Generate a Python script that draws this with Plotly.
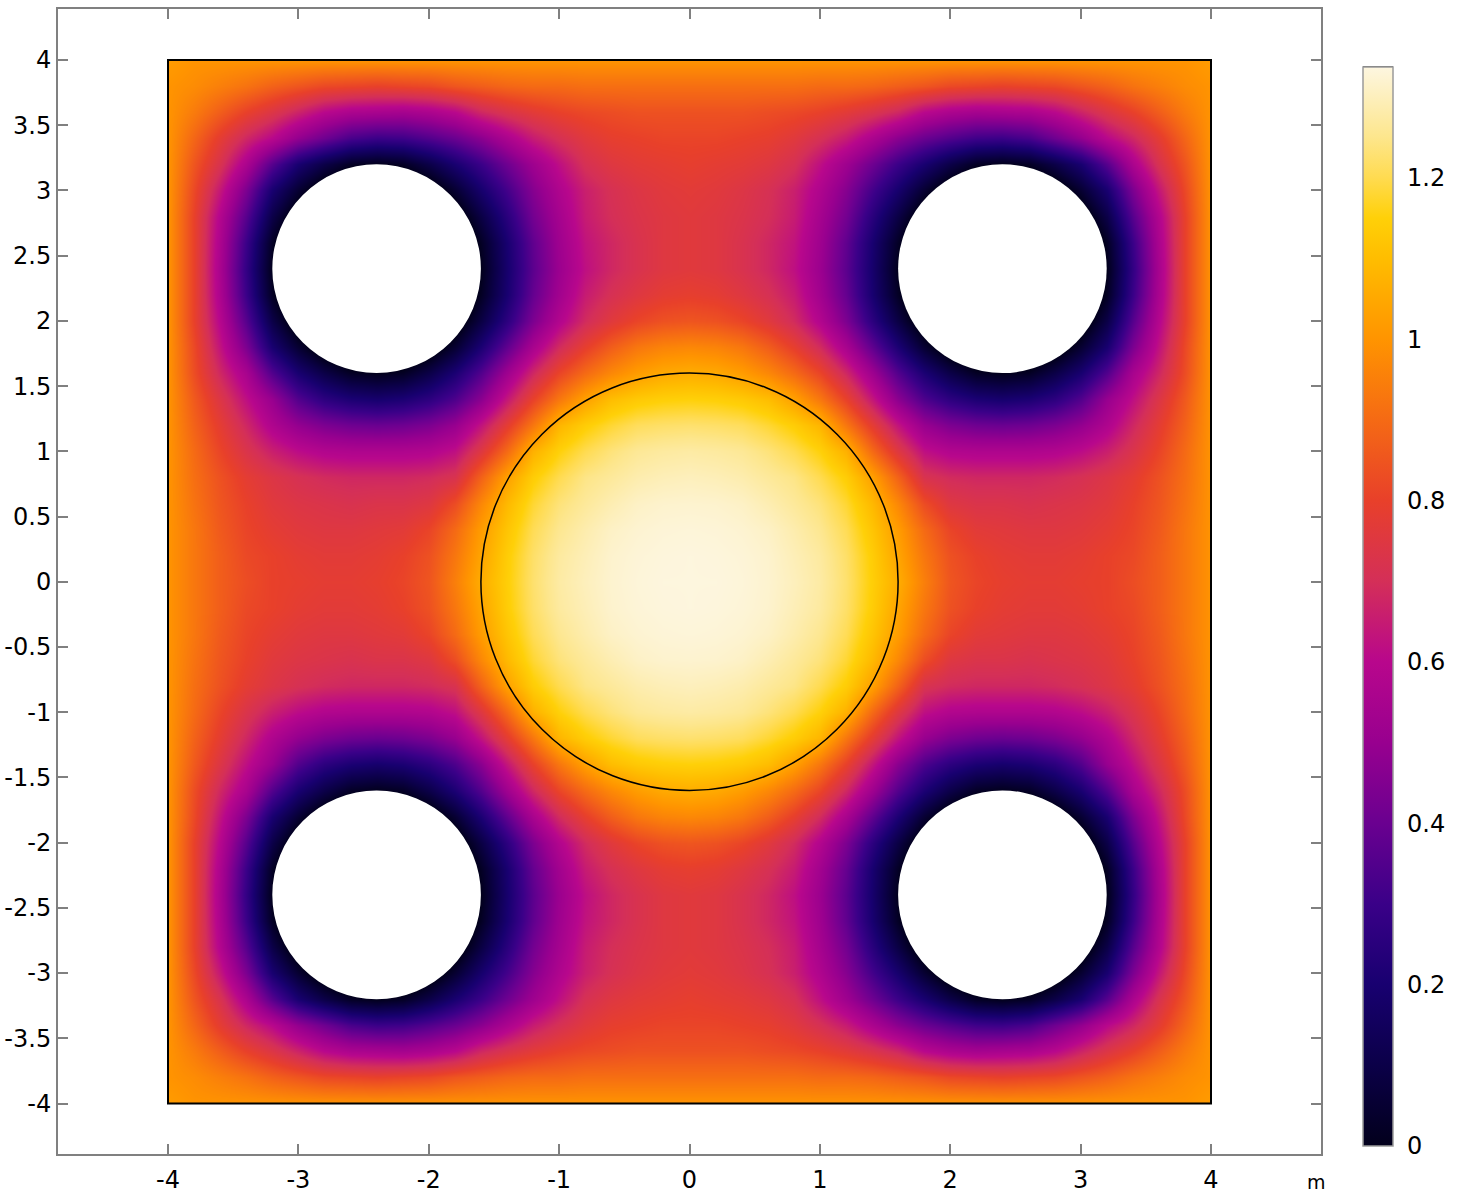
import numpy as np
import plotly.graph_objects as go

# Nodes of the upper-right quadrant (metres); the field is mirrored about both axes.
quad_x = [0.0, 0.2, 0.4, 0.6, 0.8, 1.0, 1.2, 1.4, 1.6, 1.8, 2.0, 2.2, 2.4, 2.6, 2.8, 3.0, 3.2, 3.4, 3.6, 3.8, 4.0]
quad_y = [0.0, 0.2, 0.4, 0.6, 0.8, 1.0, 1.2, 1.4, 1.6, 1.8, 2.0, 2.2, 2.4, 2.6, 2.8, 3.0, 3.2, 3.4, 3.6, 3.8, 4.0]

# Values; rows ascend in y, columns ascend in x.
# Nodes inside the holes sit below zero so that the rim of each hole reads as 0.
field = [
    [1.335, 1.335, 1.33, 1.32, 1.30, 1.275, 1.225, 1.145, 1.06, .95, .85, .81, .79, .78, .78, .79, .80, .83, .87, .93, 1.0],
    [1.335, 1.333, 1.328, 1.318, 1.295, 1.27, 1.22, 1.14, 1.04, .93, .84, .80, .78, .77, .77, .78, .80, .82, .87, .93, 1.0],
    [1.33, 1.328, 1.322, 1.31, 1.285, 1.255, 1.205, 1.12, 1.02, .90, .81, .77, .76, .75, .75, .76, .78, .81, .86, .93, 1.0],
    [1.32, 1.318, 1.31, 1.29, 1.265, 1.235, 1.18, 1.09, .97, .83, .75, .73, .73, .72, .73, .74, .76, .80, .85, .92, 1.0],
    [1.30, 1.295, 1.285, 1.265, 1.245, 1.20, 1.14, 1.03, .88, .72, .69, .68, .68, .68, .69, .71, .74, .78, .84, .91, 1.0],
    [1.275, 1.27, 1.26, 1.235, 1.20, 1.15, 1.07, .90, .75, .62, .58, .57, .57, .57, .58, .61, .66, .73, .81, .90, 1.0],
    [1.225, 1.22, 1.21, 1.18, 1.14, 1.08, .93, .78, .63, .50, .44, .41, .40, .41, .44, .49, .57, .68, .78, .88, 1.0],
    [1.15, 1.145, 1.13, 1.10, 1.03, .93, .80, .64, .47, .34, .26, .21, .19, .21, .26, .35, .50, .62, .74, .86, 1.0],
    [1.06, 1.05, 1.02, .97, .90, .81, .68, .52, .35, .21, .10, .02, 0, .02, .10, .20, .35, .55, .68, .83, 1.0],
    [.97, .96, .93, .87, .79, .69, .55, .38, .21, .05, -.07, -.15, -.18, -.15, -.07, .05, .20, .44, .63, .82, 1.0],
    [.85, .84, .81, .76, .69, .58, .44, .26, .09, -.07, -.21, -.32, -.36, -.32, -.21, -.07, .10, .36, .59, .80, 1.0],
    [.79, .78, .75, .71, .65, .53, .39, .20, .02, -.15, -.32, -.47, -.54, -.47, -.32, -.15, .02, .30, .56, .80, 1.0],
    [.76, .75, .72, .68, .62, .51, .37, .19, 0, -.18, -.36, -.54, -.70, -.54, -.36, -.18, 0, .28, .55, .80, 1.0],
    [.76, .75, .72, .68, .63, .52, .38, .20, .02, -.15, -.32, -.47, -.54, -.47, -.32, -.15, .02, .30, .56, .80, 1.0],
    [.76, .75, .73, .70, .65, .54, .42, .25, .09, -.07, -.21, -.32, -.36, -.32, -.21, -.07, .10, .36, .58, .80, 1.0],
    [.77, .76, .74, .71, .66, .57, .46, .32, .19, .05, -.07, -.15, -.18, -.15, -.07, .05, .20, .44, .64, .82, 1.0],
    [.79, .78, .77, .75, .71, .62, .52, .41, .30, .20, .10, .02, 0, .02, .10, .20, .36, .56, .72, .85, 1.0],
    [.81, .81, .80, .79, .76, .71, .65, .56, .47, .40, .35, .31, .30, .33, .41, .49, .60, .68, .78, .89, 1.0],
    [.84, .84, .84, .83, .82, .80, .77, .73, .68, .60, .56, .54, .55, .56, .60, .67, .74, .80, .87, .94, 1.0],
    [.91, .91, .91, .91, .91, .90, .90, .89, .87, .85, .82, .81, .80, .81, .82, .85, .88, .92, .95, .98, 1.0],
    [1.0, 1.0, 1.0, 1.0, 1.0, 1.0, 1.0, 1.0, 1.0, 1.0, 1.0, 1.0, 1.0, 1.0, 1.0, 1.0, 1.0, 1.0, 1.0, 1.0, 1.02],
]

# Geometry of the model, metres
hole_centres = [2.4, -2.4]
hole_radius = 0.8
core_radius = 1.6
square_half = 4.0

x_ticks = [-4, -3, -2, -1, 0, 1, 2, 3, 4]
x_labels = ["-4", "-3", "-2", "-1", "0", "1", "2", "3", "4"]
y_ticks = [-4, -3.5, -3, -2.5, -2, -1.5, -1, -0.5, 0, 0.5, 1, 1.5, 2, 2.5, 3, 3.5, 4]
y_labels = ["-4", "-3.5", "-3", "-2.5", "-2", "-1.5", "-1", "-0.5", "0", "0.5", "1", "1.5", "2", "2.5", "3", "3.5", "4"]
bar_ticks = [0, 0.2, 0.4, 0.6, 0.8, 1, 1.2]
bar_labels = ["0", "0.2", "0.4", "0.6", "0.8", "1", "1.2"]
z_max = 1.3375

colour_stops = [
    (0.0, "#02001c"), (0.1, "#0b0048"), (0.2, "#180070"), (0.3, "#3a0088"),
    (0.4, "#6a0090"), (0.5, "#98008f"), (0.6, "#b8078c"), (0.7, "#d42f58"),
    (0.8, "#e8402a"), (0.9, "#f56a14"), (1.0, "#ff9400"), (1.1, "#ffbd00"),
    (1.15, "#ffd008"), (1.2, "#ffdb50"), (1.25, "#fde68c"), (1.3375, "#fdf6e0"),
]

quad = np.array(field)
upper = np.hstack([quad[:, :0:-1], quad])
z = np.vstack([upper[:0:-1], upper])
xs = [-v for v in quad_x[:0:-1]] + quad_x
ys = [-v for v in quad_y[:0:-1]] + quad_y

W, H = 1463, 1197
L, R, T, B = 58, 1321, 9, 1154
BAR_L, BAR_W, BAR_TOP, BAR_BOT = 1363, 30, 67, 1146
GREY = "#808080"
FONT = "DejaVu Sans"

fig = go.Figure(go.Heatmap(
    x=xs, y=ys, z=z.tolist(), zmin=0, zmax=z_max, zsmooth="best",
    colorscale=[[v / z_max, c] for v, c in colour_stops],
    hoverinfo="skip",
    colorbar=dict(
        x=(BAR_L - L) / (R - L), xanchor="left", xpad=0, ypad=0,
        y=(B - BAR_BOT) / (B - T), yanchor="bottom", lenmode="fraction", len=(BAR_BOT - BAR_TOP) / (B - T),
        thickness=BAR_W, thicknessmode="pixels", outlinecolor="#9a9a9a", outlinewidth=1.5,
        ticks="outside", ticklen=9, tickwidth=1, tickcolor="rgba(0,0,0,0)",
        tickmode="array", tickvals=bar_ticks, ticktext=bar_labels,
        tickfont=dict(family=FONT, size=24, color="#000000"),
    ),
))

shapes = []
# white surround so that the field ends at the square's edge
e, s = square_half + 0.25, square_half
shapes.append(dict(type="path", xref="x", yref="y", fillcolor="white", line=dict(width=0), layer="above",
                   path=f"M{-e},{-e} L{e},{-e} L{e},{e} L{-e},{e} Z M{-s},{-s} L{-s},{s} L{s},{s} L{s},{-s} Z"))
for cx in hole_centres:
    for cy in hole_centres:
        shapes.append(dict(type="circle", xref="x", yref="y", fillcolor="white", line=dict(width=0),
                           x0=cx - hole_radius, x1=cx + hole_radius, y0=cy - hole_radius, y1=cy + hole_radius))
shapes.append(dict(type="circle", xref="x", yref="y", line=dict(color="black", width=1.5),
                   x0=-core_radius, x1=core_radius, y0=-core_radius, y1=core_radius))
shapes.append(dict(type="rect", xref="x", yref="y", line=dict(color="black", width=2),
                   x0=-s, x1=s, y0=-s, y1=s))
# colour-bar ticks on both edges, and its dark cap
bar_x0 = (BAR_L - L) / (R - L)
bar_x1 = (BAR_L + BAR_W - L) / (R - L)
tick_w = 6 / (R - L)
for v in bar_ticks[1:]:
    yp = (B - (BAR_BOT - v * (BAR_BOT - BAR_TOP) / z_max)) / (B - T)
    for a, b in ((bar_x0, bar_x0 + tick_w), (bar_x1 - tick_w, bar_x1)):
        shapes.append(dict(type="line", xref="paper", yref="paper", x0=a, x1=b, y0=yp, y1=yp,
                           line=dict(color="rgba(0,0,0,0.55)", width=2)))
cap = (B - BAR_TOP) / (B - T)
shapes.append(dict(type="line", xref="paper", yref="paper", x0=bar_x0, x1=bar_x1, y0=cap, y1=cap,
                   line=dict(color="#222222", width=1.5)))

axis_common = dict(showgrid=False, zeroline=False, showline=True, linecolor=GREY, linewidth=2,
                   mirror="ticks", ticks="inside", ticklen=10, tickwidth=2, tickcolor=GREY,
                   tickmode="array", automargin=False, tickfont=dict(family=FONT, size=24, color="#000000"))

fig.update_layout(
    width=W, height=H, margin=dict(l=L, r=W - R, t=T, b=H - B, pad=0, autoexpand=False),
    plot_bgcolor="white", paper_bgcolor="white", shapes=shapes,
    xaxis=dict(range=[-4.8437, 4.8437], tickvals=x_ticks, ticktext=x_labels, ticklabelstandoff=3, **axis_common),
    yaxis=dict(range=[-4.387, 4.391], tickvals=y_ticks, ticktext=y_labels, **axis_common),
    annotations=[dict(text="m", xref="paper", yref="paper", x=(1316 - L) / (R - L), y=(B - 1182) / (B - T),
                      xanchor="center", yanchor="middle", showarrow=False,
                      font=dict(family=FONT, size=19, color="#000000"))],
)

fig.write_html("out.html", config=dict(displayModeBar=False),
               post_script="document.body.style.margin='0';")
